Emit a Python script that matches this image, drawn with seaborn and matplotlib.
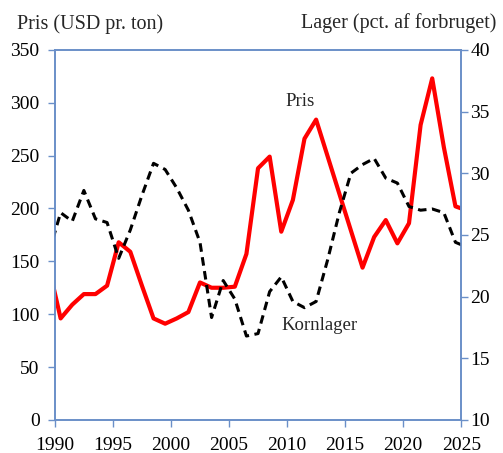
import numpy as np
import pandas as pd
import matplotlib
matplotlib.use("Agg")
import matplotlib.pyplot as plt
import seaborn as sns

# annual values, plotted mid-year
years = np.arange(1989, 2026) + 0.5
pris = [144, 96, 109, 119, 119, 127, 168, 159, 127, 96, 91, 96, 102, 130, 125, 125, 126,
        157, 238, 249, 178, 208, 266, 284, 249, 214, 179, 144, 173, 189, 167, 186, 279,
        323, 258, 202, 198]
lager = [23.6, 26.8, 26.1, 28.6, 26.3, 26.0, 23.1, 25.4, 28.2, 30.8, 30.3, 28.8, 27.0,
         24.4, 18.3, 21.3, 19.8, 16.8, 17.0, 20.4, 21.6, 19.6, 19.1, 19.6, 23.0, 26.8,
         30.0, 30.7, 31.2, 29.6, 29.2, 27.3, 27.0, 27.1, 26.8, 24.4, 24.0]

df = pd.DataFrame({"year": years, "pris": pris, "lager": lager})

sns.set_style("white")
plt.rcParams["font.family"] = ["Liberation Serif", "DejaVu Serif"]

spine_col = "#6A8FC8"
fig = plt.figure(figsize=(5.03, 4.53), dpi=100)
ax = fig.add_axes([0.109, 0.073, 0.808, 0.817])
ax2 = ax.twinx()

sns.lineplot(data=df, x="year", y="pris", ax=ax, color="#FF0000", linewidth=3.0)
sns.lineplot(data=df, x="year", y="lager", ax=ax2, color="black", linewidth=2.2,
             linestyle=(0, (2.8, 1.8)))

ax.set_xlim(1990, 2025)
ax.set_ylim(0, 350)
ax2.set_ylim(10, 40)
ax.set_xticks(range(1990, 2026, 5))
ax.set_yticks(range(0, 351, 50))
ax2.set_yticks(range(10, 41, 5))
for a in (ax, ax2):
    a.set_xlabel("")
    a.set_ylabel("")
    for s in a.spines.values():
        s.set_color(spine_col)
        s.set_linewidth(1.2)
    a.tick_params(axis="both", which="both", direction="out", length=5, width=1,
                  color=spine_col, labelsize=14, labelcolor="black")
ax.tick_params(axis="y", left=True, right=False, pad=6)
ax.tick_params(axis="x", bottom=True, pad=7)
ax2.tick_params(axis="y", right=True, left=False, pad=1.5)

fig.text(0.033, 0.947, "Pris (USD pr. ton)", fontsize=14.5, ha="left", va="center")
fig.text(0.987, 0.949, "Lager (pct. af forbruget)", fontsize=14.5, ha="right", va="center")
ax.text(2011.1, 301, "Pris", fontsize=13.5, ha="center", va="center")
ax.text(2012.8, 89, "Kornlager", fontsize=13.5, ha="center", va="center")

fig.savefig("out.png", dpi=100)
